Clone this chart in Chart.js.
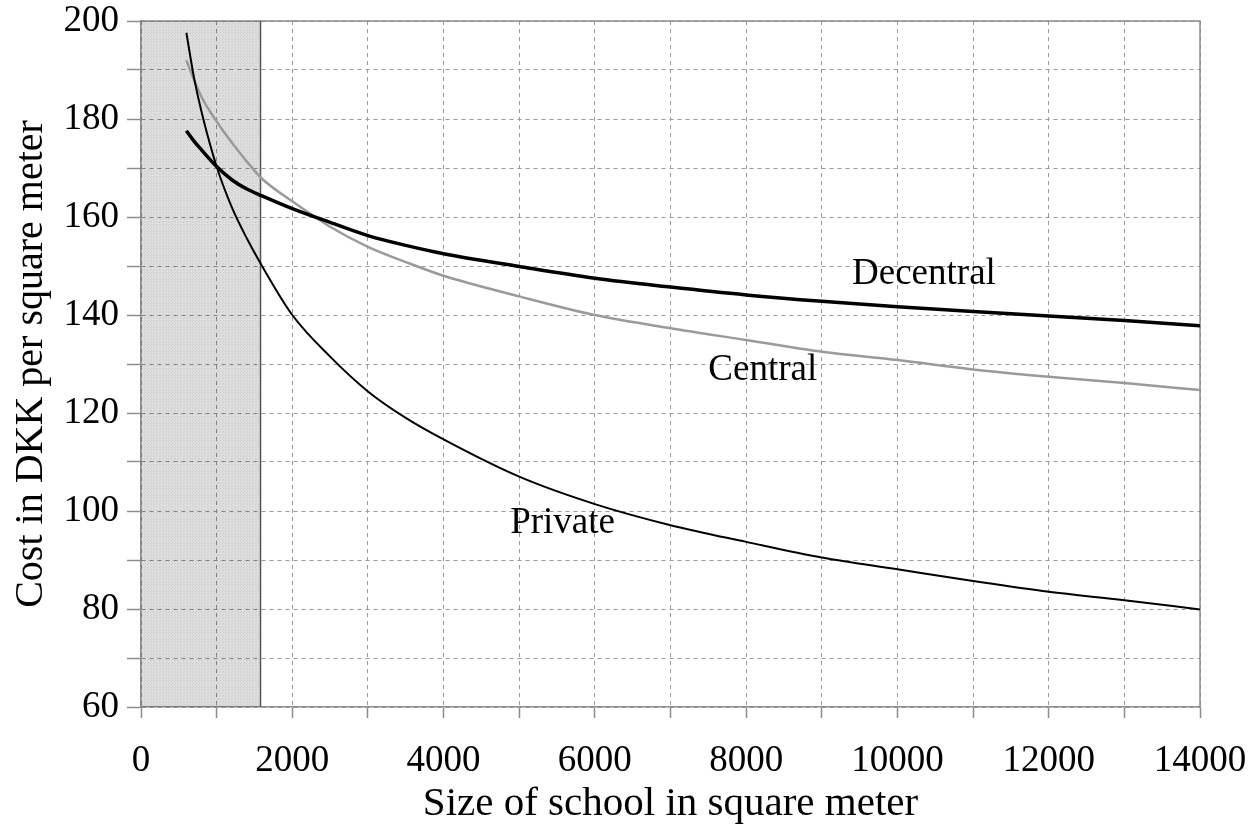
<html>
  <head>
    <script src="https://cdn.jsdelivr.net/npm/chart.js@4.4.1/dist/chart.umd.min.js"></script>
    <style>
      body { margin: 0; background: #fff; }
    </style>
  </head>
<body>
  <canvas id="costChart" width="1258" height="830"></canvas>

<script>
  // size of school (square meter) - shared x values for the three curves
  var schoolSize = [600, 700, 800, 1000, 1200, 1400, 1600, 2000, 2500, 3000, 3500, 4000, 5000,
                    6000, 7000, 8000, 9000, 10000, 11000, 12000, 13000, 14000];

  // cost in DKK per square meter
  var decentralCost = [177.6, 175.5, 173.7, 170.3, 167.6, 165.7, 164.3, 161.7, 158.9, 156.2, 154.2, 152.5, 149.9,
                       147.5, 145.7, 144.1, 142.8, 141.7, 140.7, 139.8, 138.9, 137.8];
  var centralCost = [192.0, 188.0, 184.5, 179.5, 175.2, 171.3, 167.8, 163.2, 158.0, 153.9, 150.8, 148.0, 143.8,
                     140.0, 137.3, 134.9, 132.5, 130.8, 128.9, 127.4, 126.1, 124.7];
  var privateCost = [197.6, 188.5, 181.5, 170.3, 162.0, 155.6, 150.0, 140.0, 131.5, 124.4, 119.0, 114.6, 107.0,
                     101.4, 97.1, 93.7, 90.5, 88.1, 85.7, 83.5, 81.8, 79.9];

  var seriesNames = ['Decentral', 'Central', 'Private'];

  // shaded area: schools below this size
  var shadeFrom = 0;
  var shadeTo = 1580;

  var xMin = 0, xMax = 14000, xStep = 1000, xLabelEvery = 2000;
  var yMin = 60, yMax = 200, yStep = 10, yLabelEvery = 20;

  function toPoints(xs, ys) {
    return xs.map(function (x, i) { return { x: x, y: ys[i] }; });
  }

  // dotted grey texture for the shaded block
  var patCanvas = document.createElement('canvas');
  patCanvas.width = 3;
  patCanvas.height = 3;
  var pctx = patCanvas.getContext('2d');
  pctx.fillStyle = 'rgba(0,0,0,0.13)';
  pctx.fillRect(0, 0, 3, 3);
  pctx.fillStyle = 'rgba(0,0,0,0.08)';
  pctx.fillRect(0, 0, 1, 1);
  pctx.fillRect(1, 2, 1, 1);
  var shadePattern = pctx.createPattern(patCanvas, 'repeat');

  var serifFont = '"Liberation Serif", "Times New Roman", serif';
  Chart.defaults.font.family = serifFont;
  Chart.defaults.color = '#000';

  // curve names written next to the lines (data coordinates)
  var curveLabels = {
    id: 'curveLabels',
    afterDatasetsDraw: function (chart) {
      var ctx = chart.ctx;
      var xs = chart.scales.x, ys = chart.scales.y;
      var spots = [[9400, 148.3], [7500, 128.8], [4880, 97.4]];
      ctx.save();
      ctx.font = '37px ' + serifFont;
      ctx.fillStyle = '#000';
      ctx.textAlign = 'left';
      ctx.textBaseline = 'middle';
      seriesNames.forEach(function (name, i) {
        ctx.fillText(name, xs.getPixelForValue(spots[i][0]), ys.getPixelForValue(spots[i][1]));
      });
      ctx.restore();
    }
  };

  // solid top and right edges of the plot frame
  var plotFrame = {
    id: 'plotFrame',
    beforeDatasetsDraw: function (chart) {
      var a = chart.chartArea, ctx = chart.ctx;
      ctx.save();
      ctx.strokeStyle = '#8c8c8c';
      ctx.lineWidth = 1.5;
      ctx.beginPath();
      ctx.moveTo(a.left, a.top);
      ctx.lineTo(a.right, a.top);
      ctx.lineTo(a.right, a.bottom);
      ctx.stroke();
      ctx.restore();
    }
  };

  // fixed axis sizes, and no extra room for overhanging tick labels
  function fixX(scale) {
    scale.height = 123;
    scale.paddingLeft = 0;
    scale.paddingRight = 0;
  }
  function fixY(scale) {
    scale.width = 141;
    scale.paddingTop = 0;
    scale.paddingBottom = 0;
  }

  var ctx = document.getElementById('costChart').getContext('2d');
  var chart = new Chart(ctx, {
    type: 'line',
    data: {
      datasets: [
        {
          label: seriesNames[0],
          data: toPoints(schoolSize, decentralCost),
          borderColor: '#000',
          borderWidth: 3.5,
          pointRadius: 0,
          cubicInterpolationMode: 'monotone',
          fill: false,
          order: 1
        },
        {
          label: seriesNames[2],
          data: toPoints(schoolSize, privateCost),
          borderColor: '#000',
          borderWidth: 2,
          pointRadius: 0,
          cubicInterpolationMode: 'monotone',
          fill: false,
          order: 2
        },
        {
          label: seriesNames[1],
          data: toPoints(schoolSize, centralCost),
          borderColor: '#9a9a9a',
          borderWidth: 2.5,
          pointRadius: 0,
          cubicInterpolationMode: 'monotone',
          fill: false,
          order: 3
        },
        {
          label: 'shade',
          data: [{ x: shadeFrom, y: yMax }, { x: shadeTo, y: yMax }],
          borderWidth: 0,
          borderColor: 'rgba(0,0,0,0)',
          backgroundColor: shadePattern,
          pointRadius: 0,
          fill: 'start',
          order: 10
        },
        {
          label: 'shade edge',
          data: [{ x: shadeTo, y: yMin }, { x: shadeTo, y: yMax }],
          borderColor: '#555',
          borderWidth: 1.5,
          pointRadius: 0,
          fill: false,
          order: 9
        }
      ]
    },
    options: {
      responsive: false,
      animation: false,
      layout: { padding: { top: 21, right: 58, left: 0, bottom: 0 } },
      plugins: {
        legend: { display: false },
        tooltip: { enabled: false }
      },
      scales: {
        x: {
          type: 'linear',
          min: xMin,
          max: xMax,
          afterFit: fixX,
          ticks: {
            stepSize: xStep,
            autoSkip: false,
            maxRotation: 0,
            padding: 21,
            font: { size: 37 },
            callback: function (v) { return v % xLabelEvery === 0 ? v : ''; }
          },
          grid: {
            color: '#999',
            lineWidth: 1,
            tickLength: 11,
            tickColor: '#8c8c8c',
            tickWidth: 1.5
          },
          border: { display: true, color: '#8c8c8c', width: 1.5, dash: [4, 4] },
          title: {
            display: true,
            text: 'Size of school in square meter',
            font: { size: 41 },
            padding: { top: 0, bottom: 1 }
          }
        },
        y: {
          min: yMin,
          max: yMax,
          afterFit: fixY,
          ticks: {
            stepSize: yStep,
            autoSkip: false,
            padding: 8,
            font: { size: 37 },
            callback: function (v) { return v % yLabelEvery === 0 ? v : ''; }
          },
          grid: {
            color: '#999',
            lineWidth: 1,
            tickLength: 14,
            tickColor: '#8c8c8c',
            tickWidth: 1.5
          },
          border: { display: true, color: '#8c8c8c', width: 1.5, dash: [4, 4] },
          title: {
            display: true,
            text: 'Cost in DKK per square meter',
            font: { size: 40 },
            padding: { top: 7, bottom: 0 }
          }
        }
      }
    },
    plugins: [curveLabels, plotFrame]
  });
</script>
</body>
</html>
